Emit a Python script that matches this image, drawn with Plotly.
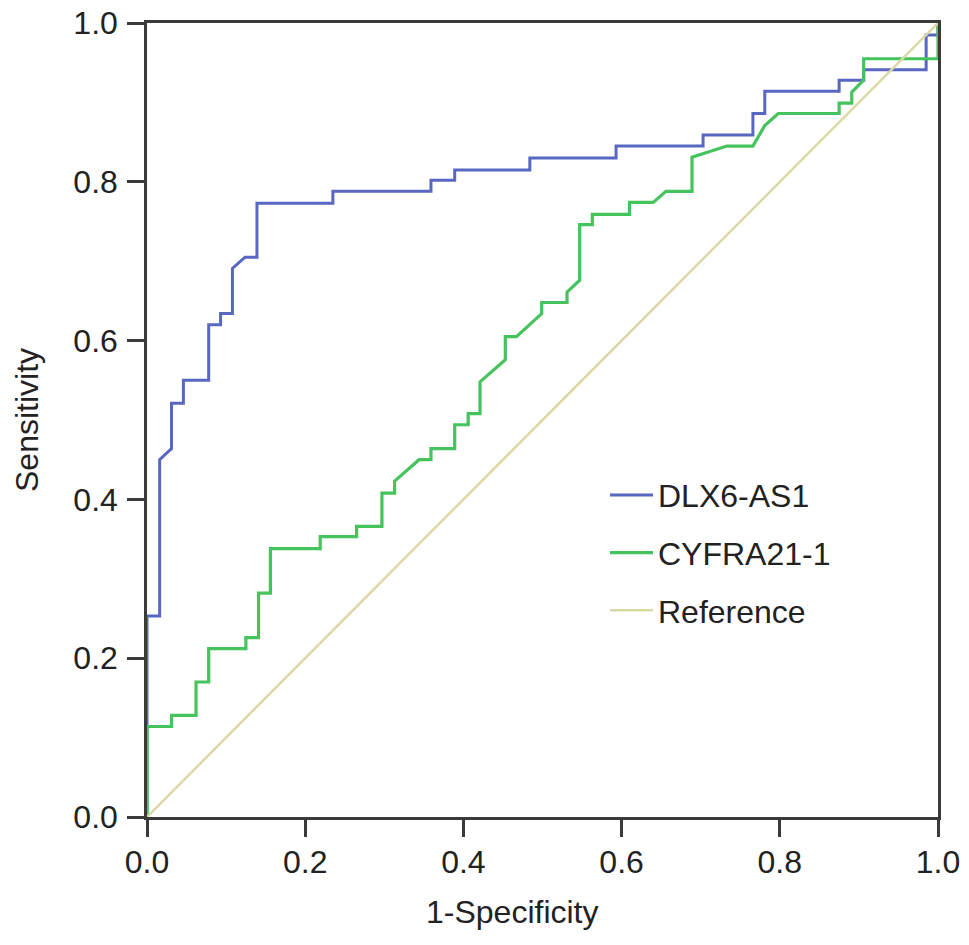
import plotly.graph_objects as go

# ROC curve points (1-specificity, sensitivity)
dlx6_fpr = [0.0, 0.0, 0.016, 0.016, 0.031, 0.031, 0.046, 0.046, 0.078, 0.078,
            0.093, 0.093, 0.108, 0.108, 0.124, 0.139, 0.139, 0.235, 0.235, 0.359,
            0.359, 0.389, 0.389, 0.484, 0.484, 0.593, 0.593, 0.703, 0.703, 0.766,
            0.766, 0.781, 0.781, 0.875, 0.875, 0.906, 0.906, 0.985, 0.985, 1.0, 1.0]
dlx6_tpr = [0.0, 0.253, 0.253, 0.450, 0.464, 0.521, 0.521, 0.550, 0.550, 0.620,
            0.620, 0.634, 0.634, 0.691, 0.705, 0.705, 0.773, 0.773, 0.788, 0.788,
            0.802, 0.802, 0.815, 0.815, 0.830, 0.830, 0.845, 0.845, 0.859, 0.859,
            0.886, 0.886, 0.914, 0.914, 0.928, 0.928, 0.941, 0.941, 0.985, 0.985, 1.0]

cyfra_fpr = [0.0, 0.0, 0.031, 0.031, 0.062, 0.062, 0.078, 0.078, 0.125, 0.125,
             0.141, 0.141, 0.156, 0.156, 0.219, 0.219, 0.265, 0.265, 0.297, 0.297,
             0.313, 0.313, 0.344, 0.359, 0.359, 0.389, 0.389, 0.406, 0.406, 0.421,
             0.421, 0.453, 0.453, 0.467, 0.499, 0.499, 0.531, 0.531, 0.547, 0.547,
             0.563, 0.563, 0.610, 0.610, 0.640, 0.656, 0.689, 0.689, 0.733, 0.766,
             0.781, 0.798, 0.875, 0.875, 0.891, 0.891, 0.906, 0.906, 1.0, 1.0]
cyfra_tpr = [0.0, 0.114, 0.114, 0.128, 0.128, 0.170, 0.170, 0.212, 0.212, 0.226,
             0.226, 0.282, 0.282, 0.338, 0.338, 0.353, 0.353, 0.366, 0.366, 0.408,
             0.408, 0.423, 0.450, 0.450, 0.464, 0.464, 0.494, 0.494, 0.508, 0.508,
             0.548, 0.576, 0.605, 0.605, 0.634, 0.648, 0.648, 0.661, 0.676, 0.746,
             0.746, 0.759, 0.759, 0.774, 0.774, 0.788, 0.788, 0.831, 0.845, 0.845,
             0.871, 0.886, 0.886, 0.899, 0.899, 0.913, 0.928, 0.955, 0.955, 1.0]

ref_x = [0.0, 1.0]
ref_y = [0.0, 1.0]

tick_vals = [0.0, 0.2, 0.4, 0.6, 0.8, 1.0]
tick_text = ['0.0', '0.2', '0.4', '0.6', '0.8', '1.0']

font_family = 'Liberation Sans, Arial, Helvetica, sans-serif'
axis_color = '#3a3a3a'

fig = go.Figure()
fig.add_trace(go.Scatter(x=dlx6_fpr, y=dlx6_tpr, mode='lines', name='DLX6-AS1',
                         legendgroup='a', line=dict(color='#5767c2', width=3)))
fig.add_trace(go.Scatter(x=cyfra_fpr, y=cyfra_tpr, mode='lines', name='CYFRA21-1',
                         legendgroup='b', line=dict(color='#45c35c', width=3.2)))
fig.add_trace(go.Scatter(x=ref_x, y=ref_y, mode='lines', name='Reference',
                         legendgroup='c', line=dict(color='#dcd8a6', width=2.5)))

axis_common = dict(
    range=[0, 1], tickvals=tick_vals, ticktext=tick_text,
    showgrid=False, zeroline=False, automargin=False,
    showline=True, linecolor=axis_color, linewidth=2.5, mirror=True,
    ticks='outside', ticklen=17, tickwidth=2.5, tickcolor=axis_color,
    ticklabeloverflow='allow',
    tickfont=dict(family=font_family, size=32, color='#222222'),
)

fig.update_xaxes(**axis_common, ticklabelstandoff=-2)
fig.update_yaxes(**axis_common, ticklabelstandoff=3)

fig.update_layout(
    width=969, height=945,
    margin=dict(l=147, r=31, t=23, b=128),
    paper_bgcolor='white', plot_bgcolor='white',
    font=dict(family=font_family, size=32, color='#222222'),
    showlegend=True,
    legend=dict(x=0.579, y=0.440, xanchor='left', yanchor='top',
                bgcolor='rgba(0,0,0,0)', tracegroupgap=13,
                traceorder='grouped', itemwidth=43,
                font=dict(family=font_family, size=32, color='#222222')),
    annotations=[
        dict(text='1-Specificity', x=(512 - 147) / 791, y=-(912 - 817) / 794,
             xref='paper', yref='paper', xanchor='center', yanchor='middle',
             showarrow=False, font=dict(size=32)),
        dict(text='Sensitivity', x=-(147 - 27) / 791, y=0.5,
             xref='paper', yref='paper', xanchor='center', yanchor='middle',
             showarrow=False, textangle=-90, font=dict(size=32)),
    ],
)

# drop the default page margin so the figure sits at the top-left corner
fig.write_html('out.html', config={'displayModeBar': False},
               post_script="document.body.style.margin = '0';")
